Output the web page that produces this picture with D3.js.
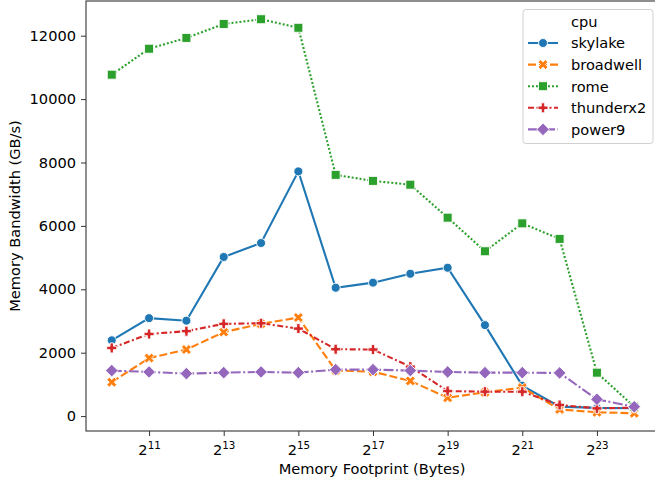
<!DOCTYPE html>
<html>
<head>
<meta charset="utf-8">
<script src="https://cdn.jsdelivr.net/npm/d3@7"></script>
<style>
  body { margin: 0; background: #fff; }
  svg text { font-family: "DejaVu Sans", sans-serif; fill: #000; }
</style>
</head>
<body>
<div id="chart"></div>
<script>
// data
const footprint = [1024, 2048, 4096, 8192, 16384, 32768, 65536, 131072, 262144, 524288, 1048576, 2097152, 4194304, 8388608, 16777216];
const skylake   = [2390, 3090, 3010, 5020, 5460, 7720, 4050, 4210, 4490, 4680, 2870, 960, 300, 260, 250];
const broadwell = [1070, 1830, 2100, 2650, 2910, 3110, 1440, 1400, 1110, 580, 750, 900, 210, 120, 90];
const rome      = [10770, 11590, 11930, 12370, 12520, 12250, 7610, 7420, 7300, 6260, 5200, 6080, 5590, 1370, 295];
const thunderx2 = [2150, 2590, 2680, 2910, 2930, 2760, 2110, 2100, 1560, 790, 770, 770, 350, 245, 265];
const power9    = [1435, 1393, 1340, 1371, 1393, 1371, 1466, 1466, 1435, 1393, 1371, 1371, 1362, 530, 295];
const cpus = ['skylake', 'broadwell', 'rome', 'thunderx2', 'power9'];
const yTicks = [0, 2000, 4000, 6000, 8000, 10000, 12000];
const xTickExp = [11, 13, 15, 17, 19, 21, 23];

const seriesValues = { skylake, broadwell, rome, thunderx2, power9 };
const colors = { skylake: '#1f77b4', broadwell: '#ff7f0e', rome: '#2ca02c', thunderx2: '#d62728', power9: '#9467bd' };
const dashes = { skylake: null, broadwell: '8,3', rome: '2,2', thunderx2: '6,2.5,2,2.5', power9: '10,2.5,2,2.5' };

const W = 655, H = 482;
const margin = {left: 86, top: 1, right: 660, bottom: 431};
const fs = '14.6px';

const svg = d3.select('#chart').append('svg')
    .attr('width', W).attr('height', H);

const x = d3.scaleLog().base(2)
    .domain([Math.pow(2, 9.31), Math.pow(2, 24.69)])
    .range([margin.left, margin.right]);
const y = d3.scaleLinear()
    .domain([-470, 13095])
    .range([margin.bottom, margin.top]);

// marker paths, centred on 0,0
function markerPath(name) {
    if (name === 'skylake') {
        return d3.symbol(d3.symbolCircle, Math.PI * 4.5 * 4.5)();
    }
    if (name === 'rome') {
        const s = 4.5;
        return `M${-s},${-s}H${s}V${s}H${-s}Z`;
    }
    if (name === 'power9') {
        const s = 6.3;
        return `M0,${-s}L${s},0L0,${s}L${-s},0Z`;
    }
    // filled plus, rotated for the X marker
    const a = 1.7, b = 5.0;
    let pts = [[-a,-b],[a,-b],[a,-a],[b,-a],[b,a],[a,a],[a,b],[-a,b],[-a,a],[-b,a],[-b,-a],[-a,-a]];
    if (name === 'broadwell') {
        const c = Math.SQRT1_2;
        pts = pts.map(p => [(p[0] - p[1]) * c * 1.05, (p[0] + p[1]) * c * 1.05]);
    }
    return 'M' + pts.map(p => p[0].toFixed(2) + ',' + p[1].toFixed(2)).join('L') + 'Z';
}

// axes
svg.append('g')
    .attr('transform', 'translate(' + margin.left + ',0)')
    .call(d3.axisLeft(y).tickValues(yTicks).tickSize(5).tickPadding(5).tickFormat(d3.format('d')))
    .call(g => g.select('.domain').remove())
    .call(g => g.selectAll('text').style('font-size', fs))
    .call(g => g.selectAll('line').attr('stroke', '#333').attr('stroke-width', 1));

const xAxis = svg.append('g')
    .attr('transform', 'translate(0,' + margin.bottom + ')')
    .call(d3.axisBottom(x).tickValues(xTickExp.map(e => Math.pow(2, e))).tickSize(5).tickFormat(''))
    .call(g => g.select('.domain').remove())
    .call(g => g.selectAll('line').attr('stroke', '#333').attr('stroke-width', 1));

xAxis.selectAll('.tick').each(function(d, i) {
    const t = d3.select(this).append('text')
        .attr('y', 24)
        .attr('text-anchor', 'middle')
        .style('font-size', fs);
    t.append('tspan').text('2');
    t.append('tspan').attr('dy', -6.5).style('font-size', '10.3px').text(xTickExp[i]);
});

// series
cpus.forEach(name => {
    const vals = seriesValues[name];
    const pts = footprint.map((f, i) => [f, vals[i]]);
    const line = d3.line().x(d => x(d[0])).y(d => y(d[1]));
    svg.append('path')
        .datum(pts)
        .attr('d', line)
        .attr('fill', 'none')
        .attr('stroke', colors[name])
        .attr('stroke-width', 2.1)
        .attr('stroke-dasharray', dashes[name]);
    svg.append('g').selectAll('path')
        .data(pts)
        .enter().append('path')
        .attr('d', markerPath(name))
        .attr('transform', d => 'translate(' + x(d[0]) + ',' + y(d[1]) + ')')
        .attr('fill', colors[name])
        .attr('stroke', '#fff')
        .attr('stroke-width', 0.9);
});

// spines
svg.append('rect')
    .attr('x', margin.left).attr('y', margin.top)
    .attr('width', margin.right - margin.left).attr('height', margin.bottom - margin.top)
    .attr('fill', 'none')
    .attr('stroke', '#333')
    .attr('stroke-width', 1.1);

// axis labels
svg.append('text')
    .attr('x', (margin.left + margin.right) / 2 - 1).attr('y', 474)
    .attr('text-anchor', 'middle')
    .style('font-size', fs)
    .text('Memory Footprint (Bytes)');

svg.append('text')
    .attr('transform', 'translate(19.5,' + ((margin.top + margin.bottom) / 2) + ') rotate(-90)')
    .attr('text-anchor', 'middle')
    .style('font-size', fs)
    .text('Memory Bandwidth (GB/s)');

// legend
const lg = svg.append('g');
lg.append('rect')
    .attr('x', 523).attr('y', 9.5)
    .attr('width', 130).attr('height', 134)
    .attr('rx', 3)
    .attr('fill', 'rgba(255,255,255,0.8)')
    .attr('stroke', '#d0d0d0')
    .attr('stroke-width', 1);

lg.append('text')
    .attr('x', 571).attr('y', 26.5)
    .style('font-size', fs)
    .text('cpu');

cpus.forEach((name, i) => {
    const cy = 43 + i * 21.6;
    lg.append('line')
        .attr('x1', 528).attr('x2', 558)
        .attr('y1', cy).attr('y2', cy)
        .attr('stroke', colors[name])
        .attr('stroke-width', 2.1)
        .attr('stroke-dasharray', dashes[name]);
    lg.append('path')
        .attr('d', markerPath(name))
        .attr('transform', 'translate(543,' + cy + ')')
        .attr('fill', colors[name])
        .attr('stroke', '#fff')
        .attr('stroke-width', 0.9);
    lg.append('text')
        .attr('x', 571).attr('y', cy + 5.3)
        .style('font-size', fs)
        .text(name);
});
</script>
</body>
</html>
